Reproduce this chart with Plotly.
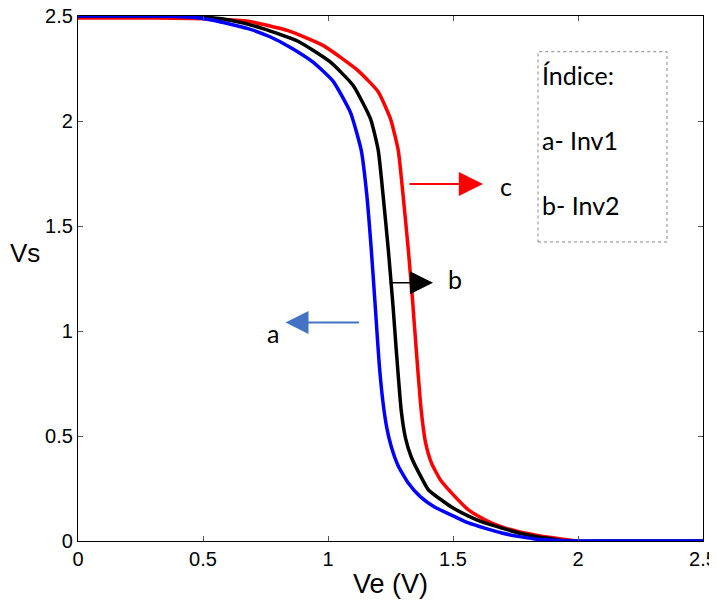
import plotly.graph_objects as go

# Ve (V) values and Vs values for each inverter curve
x_a = [0.0, 0.30, 0.45, 0.54, 0.68, 0.77, 0.85, 0.94, 1.02, 1.09, 1.133, 1.155, 1.173, 1.19, 1.205, 1.22, 1.235, 1.253, 1.28, 1.321, 1.37, 1.426, 1.50, 1.562, 1.63, 1.695, 1.76, 1.827, 1.90, 1.964, 2.2, 2.5]
y_a = [2.50, 2.50, 2.495, 2.48, 2.44, 2.40, 2.35, 2.28, 2.19, 2.04, 1.86, 1.65, 1.39, 1.10, 0.84, 0.66, 0.54, 0.45, 0.36, 0.276, 0.21, 0.162, 0.12, 0.086, 0.06, 0.038, 0.022, 0.01, 0.004, 0.0, 0.0, 0.0]

x_b = [0.0, 0.30, 0.50, 0.61, 0.74, 0.88, 1.01, 1.10, 1.17, 1.201, 1.22, 1.241, 1.26, 1.273, 1.293, 1.31, 1.333, 1.37, 1.402, 1.494, 1.56, 1.627, 1.70, 1.763, 1.83, 1.896, 1.95, 2.2, 2.5]
y_b = [2.50, 2.50, 2.495, 2.48, 2.44, 2.38, 2.28, 2.17, 2.01, 1.86, 1.65, 1.39, 1.12, 0.91, 0.62, 0.49, 0.40, 0.31, 0.243, 0.162, 0.12, 0.086, 0.06, 0.038, 0.022, 0.01, 0.0, 0.0, 0.0]

x_c = [0.0, 0.30, 0.55, 0.68, 0.84, 0.98, 1.12, 1.20, 1.25, 1.281, 1.30, 1.321, 1.338, 1.353, 1.373, 1.39, 1.414, 1.45, 1.494, 1.562, 1.63, 1.695, 1.76, 1.827, 1.90, 1.964, 2.05, 2.3, 2.5]
y_c = [2.49, 2.49, 2.485, 2.475, 2.43, 2.36, 2.24, 2.14, 2.01, 1.86, 1.65, 1.39, 1.15, 0.91, 0.62, 0.47, 0.371, 0.29, 0.229, 0.148, 0.10, 0.067, 0.045, 0.029, 0.015, 0.005, -0.01, -0.01, -0.01]

x_ticks = [0, 0.5, 1, 1.5, 2, 2.5]
y_ticks = [0, 0.5, 1, 1.5, 2, 2.5]
tick_text = ["0", "0.5", "1", "1.5", "2", "2.5"]

fig = go.Figure()
line_opts = dict(width=3.5, shape="spline", smoothing=0.5)
fig.add_trace(go.Scatter(x=x_c, y=y_c, mode="lines", line=dict(color="#ff0000", **line_opts), name="c"))
fig.add_trace(go.Scatter(x=x_b, y=y_b, mode="lines", line=dict(color="#000000", **line_opts), name="b"))
fig.add_trace(go.Scatter(x=x_a, y=y_a, mode="lines", line=dict(color="#0000ff", **line_opts), name="a"))

label_font = dict(family="Lato, Open Sans, sans-serif", size=25, color="#000000")

# arrows
fig.add_annotation(x=1.62, y=1.7, ax=1.32, ay=1.7, axref="x", ayref="y", xref="x", yref="y",
                   text="", showarrow=True, arrowhead=2, arrowsize=2.2, arrowwidth=2.2, arrowcolor="#ff0000")
fig.add_annotation(x=1.68, y=1.69, text="c", showarrow=False, font=label_font, xref="x", yref="y",
                   xanchor="left", yanchor="middle")
fig.add_annotation(x=1.42, y=1.23, ax=1.24, ay=1.23, axref="x", ayref="y", xref="x", yref="y",
                   text="", showarrow=True, arrowhead=2, arrowsize=3.3, arrowwidth=1.4, arrowcolor="#000000")
fig.add_annotation(x=1.47, y=1.25, text="b", showarrow=False, font=label_font, xref="x", yref="y",
                   xanchor="left", yanchor="middle")
fig.add_annotation(x=0.83, y=1.04, ax=1.13, ay=1.04, axref="x", ayref="y", xref="x", yref="y",
                   text="", showarrow=True, arrowhead=2, arrowsize=2.3, arrowwidth=2.0, arrowcolor="#4472c4")
fig.add_annotation(x=0.81, y=0.99, text="a", showarrow=False, font=label_font, xref="x", yref="y",
                   xanchor="right", yanchor="middle")

# index box
fig.add_shape(type="rect", xref="x", yref="y", x0=1.84, x1=2.356, y0=1.424, y1=2.33,
              line=dict(color="#888888", width=1, dash="dot"), fillcolor="rgba(0,0,0,0)")
for txt, yy in [("Índice:", 2.22), ("a- Inv1", 1.91), ("b- Inv2", 1.60)]:
    fig.add_annotation(x=1.847, y=yy, text=txt, showarrow=False, font=label_font,
                       xref="x", yref="y", xanchor="left", yanchor="middle")

axis_common = dict(showline=True, linecolor="#000000", linewidth=1.3, mirror="ticks",
                   ticks="inside", ticklen=5, tickcolor="#555555", tickwidth=1,
                   showgrid=False, zeroline=False, automargin=False,
                   ticklabeloverflow="allow",
                   tickfont=dict(family="Liberation Sans, Arial, sans-serif", size=20, color="#000000"))

# the page body adds an 8px offset, so margins are compensated
fig.update_layout(
    width=717, height=605,
    margin=dict(l=70, r=22, t=8, b=72),
    plot_bgcolor="#ffffff", paper_bgcolor="#ffffff",
    showlegend=False,
    xaxis=dict(range=[0, 2.5], tickvals=x_ticks, ticktext=tick_text,
               title=dict(text="Ve (V)", font=dict(family="Liberation Sans, Arial, sans-serif", size=27, color="#000000"), standoff=4),
               **axis_common),
    yaxis=dict(range=[0, 2.5], tickvals=y_ticks, ticktext=tick_text, **axis_common),
)
fig.add_annotation(text="Vs", xref="paper", yref="paper", x=-0.085, y=0.549, showarrow=False,
                   font=dict(family="Liberation Sans, Arial, sans-serif", size=26, color="#000000"),
                   xanchor="center", yanchor="middle")

fig.write_html("out.html")
